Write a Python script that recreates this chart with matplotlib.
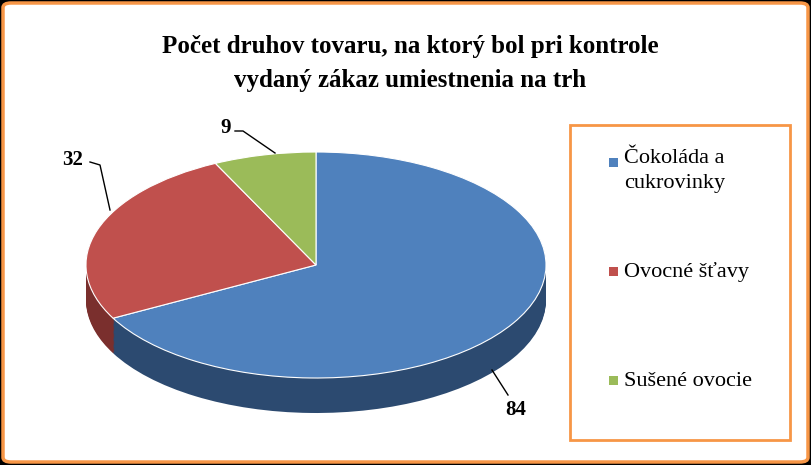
import matplotlib
matplotlib.use("Agg")
import matplotlib.pyplot as plt
from matplotlib.patches import FancyBboxPatch, Rectangle
from matplotlib.lines import Line2D

categories = ["Čokoláda a\ncukrovinky", "Ovocné šťavy", "Sušené ovocie"]
values = [84, 32, 9]
top_colors = ["#4f81bd", "#c0504d", "#9bbb59"]
side_colors = ["#2c4a70", "#7a2f2d", "#5f7a35"]

W, H = 811, 465
fig = plt.figure(figsize=(W/100, H/100), dpi=100)
fig.patch.set_facecolor("black")
fig.patches.append(FancyBboxPatch((3/W, 3/H), 1-6/W, 1-6/H, boxstyle="round,pad=0,rounding_size=0.01",
                                  transform=fig.transFigure, facecolor="white", edgecolor="#f79646",
                                  linewidth=2.5, zorder=-5))

def px(x, y):
    return x / W, 1 - y / H

fig.text(*px(410, 47), "Počet druhov tovaru, na ktorý bol pri kontrole", ha="center", va="center",
         fontsize=18, fontweight="bold", family="Liberation Serif")
fig.text(*px(410, 80), "vydaný zákaz umiestnenia na trh", ha="center", va="center",
         fontsize=18, fontweight="bold", family="Liberation Serif")

ry = 113.0
depth = 35.0
x0, x1 = 86, 546
ytop = 265 - ry
ybot = 265 + ry + depth
ax = fig.add_axes([x0/W, 1 - ybot/H, (x1-x0)/W, (ybot-ytop)/H])
ax.set_axis_off()
ax.patch.set_visible(False)
steps = 30
for i in range(steps, 0, -1):
    d = depth / ry * i / steps
    ax.pie(values, startangle=90, counterclock=False, colors=side_colors, center=(0, -d),
           radius=1, wedgeprops=dict(linewidth=0))
ax.pie(values, startangle=90, counterclock=False, colors=top_colors, center=(0, 0),
       radius=1, wedgeprops=dict(linewidth=0.8, edgecolor="white"))
ax.set_aspect("auto")
ax.set_xlim(-1, 1)
ax.set_ylim(-1 - depth/ry, 1)

def line(pts):
    xs = [p[0]/W for p in pts]; ys = [1 - p[1]/H for p in pts]
    fig.add_artist(Line2D(xs, ys, color="black", lw=1, transform=fig.transFigure))

lab_kw = dict(ha="center", va="center", fontsize=15, fontweight="bold", family="Liberation Serif")
line([(275, 153), (243, 131), (235, 131)])
fig.text(*px(226, 128), str(values[2]), **lab_kw)
line([(110, 210), (100, 165), (90, 162)])
fig.text(*px(73, 160), str(values[1]), **lab_kw)
line([(492, 370), (508, 395)])
fig.text(*px(516, 410), str(values[0]), **lab_kw)

fig.patches.append(Rectangle(px(570, 440), 220/W, 315/H, transform=fig.transFigure,
                             facecolor="white", edgecolor="#f79646", linewidth=2, zorder=-4))
ys = [163, 272, 381]
for lab, c, y in zip(categories, top_colors, ys):
    fig.patches.append(Rectangle(px(609, y+4), 9/W, 9/H, transform=fig.transFigure,
                                 facecolor=c, edgecolor="none", zorder=-3))
    if "\n" in lab:
        fig.text(*px(624, y - 14), lab, ha="left", va="top", fontsize=16,
                 family="Liberation Serif", linespacing=1.4)
    else:
        fig.text(*px(624, y), lab, ha="left", va="center", fontsize=16, family="Liberation Serif")

fig.savefig("out.png", dpi=100, facecolor=fig.get_facecolor())
